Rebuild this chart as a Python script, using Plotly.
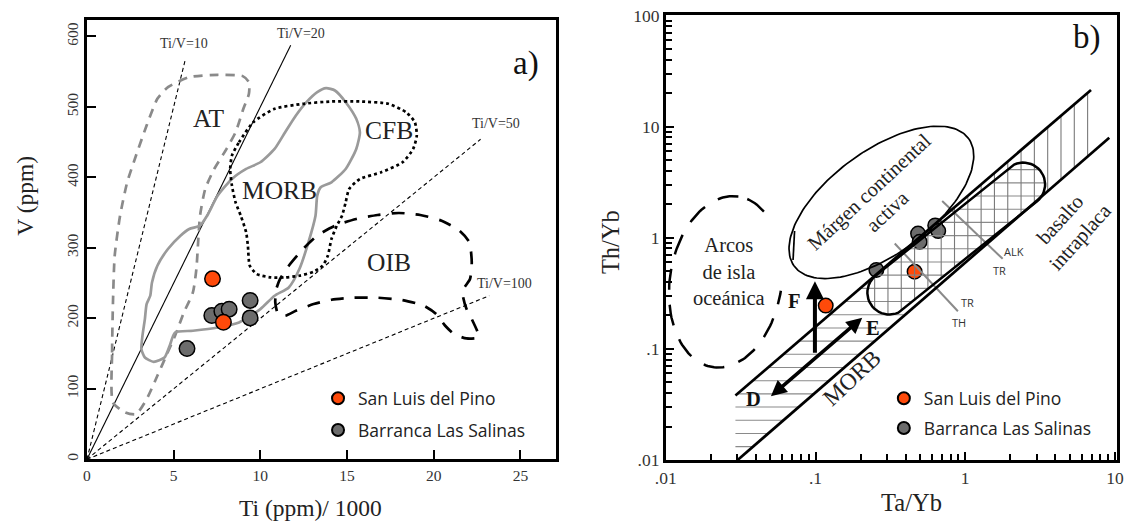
import numpy as np
import plotly.graph_objects as go

SERIF = "Liberation Serif"
SANS = "Open Sans"
ORANGE = "#ff4a0a"
GRAY = "#6c6c6c"

# measured page mapping: shown = (layout_px + 8) * K
FIG_W, FIG_H, OFF = 1128, 527, 8
KX, KY = 1128 / 1144, 527 / 543


def pxx(x):
    return (x / KX - OFF) / FIG_W


def pxy(y):
    return 1 - (y / KY - OFF) / FIG_H


# ---------------- Panel a) Ti - V ----------------
slp_ti = [7.24, 7.87]
slp_v = [256, 194.5]
bls_ti = [7.20, 7.78, 8.20, 9.41, 9.41, 5.77]
bls_v = [204, 210, 213, 225.4, 200.6, 157]

ratio_vals = [10, 20, 50, 100]
ratio_end_ti = [5.65, 11.75, 22.7, 23.2]
ratio_labels = ["Ti/V=10", "Ti/V=20", "Ti/V=50", "Ti/V=100"]
ratio_label_ti = [5.6, 12.35, 23.6, 24.1]
ratio_label_v = [590, 604, 476, 250]

at_ti = [1.50, 1.45, 1.50, 1.60, 1.91, 2.32, 2.83, 3.44, 4.06, 4.67, 5.90, 7.54, 8.98, 9.34, 9.34,
         9.02, 8.57, 8.05, 7.34, 6.82, 6.52, 6.41, 6.31, 6.11, 5.59, 5.08, 4.57, 4.06, 3.44, 2.83, 2.21, 1.50]
at_v = [80.5, 151.5, 222.5, 288.8, 345.6, 393, 430.9, 473.5, 511.4, 527.9, 542.1, 545.5, 543.6, 535, 518.5,
        497.2, 464, 440.3, 411.9, 383.5, 345.6, 307.8, 269.9, 236.7, 208.3, 175.2, 146.8, 118.4, 85.2, 63.9, 66.3, 80.5]

morb_ti = [3.14, 3.34, 3.85, 4.47, 4.77, 5.08, 6.11, 7.54, 8.77, 10.0, 10.82, 11.64, 12.25, 12.77, 13.18, 13.28,
           13.48, 14.1, 14.92, 15.53, 15.74, 15.53, 14.92, 14.30, 13.79, 13.28, 12.66, 12.05, 11.43, 10.82,
           10.0, 9.18, 8.36, 7.54, 6.93, 6.52, 5.90, 5.39, 4.67, 4.06, 3.75, 3.65, 3.44, 3.34, 3.20, 3.14]
morb_v = [156.3, 144.4, 138.3, 144.4, 161.0, 179.9, 182.3, 187.0, 194.1, 213.1, 232.0, 243.8, 269.9, 307.8, 345.6,
          374.1, 385.9, 393.0, 411.9, 440.3, 464.0, 483.0, 506.6, 523.2, 526.5, 520.8, 506.6, 487.7, 464.0, 440.3,
          421.4, 411.9, 397.7, 374.1, 345.6, 331.4, 326.7, 317.2, 298.3, 274.6, 250.9, 232.0, 220.2, 198.9, 175.2, 156.3]

cfb_ti = [8.36, 8.77, 9.59, 10.82, 12.46, 14.10, 15.74, 17.38, 18.4, 18.91, 19.02, 18.81, 18.2, 16.97, 15.74,
          15.12, 14.92, 14.71, 14.41, 14.1, 13.89, 13.59, 13.07, 12.25, 11.43, 10.61, 9.80, 9.39, 9.28, 9.18,
          8.87, 8.57, 8.36, 8.26, 8.36]
cfb_v = [430.9, 449.8, 478.2, 497.2, 504.3, 507.6, 507.6, 504.3, 492.4, 478.2, 459.3, 440.3, 421.4, 407.2, 397.7,
         383.5, 364.6, 345.6, 331.4, 312.5, 288.8, 274.6, 266.1, 260.4, 258.0, 258.0, 262.8, 274.6, 303.0, 322.0,
         345.6, 364.6, 388.3, 411.9, 430.9]

oib_ti = [11.13, 11.64, 12.46, 13.28, 14.30, 15.53, 16.76, 17.99, 19.22, 20.45, 21.48, 22.05, 22.19, 22.09,
          21.72, 21.68, 21.89, 22.19, 22.50, 22.60, 21.89, 21.17, 20.66, 20.14, 19.43, 18.20, 16.76, 15.33,
          14.10, 13.07, 12.05, 11.43, 11.02, 10.86, 10.92, 11.13]
oib_v = [255.7, 274.6, 298.3, 317.2, 331.4, 340.9, 346.6, 349.4, 346.6, 338.5, 324.3, 307.8, 279.4, 255.7,
         241.5, 232.0, 213.1, 198.9, 182.3, 172.8, 171.4, 177.6, 189.4, 206.0, 217.8, 225.9, 229.2, 229.2,
         226.3, 220.2, 210.7, 203.6, 206.0, 222.5, 241.5, 255.7]

field_labels_a = ["AT", "CFB", "MORB", "OIB"]
field_label_ti = [7.05, 17.4, 11.1, 17.4]
field_label_v = [483, 466, 381, 279]

# ---------------- Panel b) Ta/Yb - Th/Yb ----------------
slp_tayb = [0.117, 0.459]
slp_thyb = [0.245, 0.495]
bls_tayb = [0.255, 0.484, 0.496, 0.63, 0.66]
bls_thyb = [0.513, 1.09, 0.918, 1.29, 1.15]

# mantle array limits (log10 units)
upper_lx = [-1.535, 0.84]
upper_ly = [-1.42, 1.33]
lower_lx = [-1.52, 0.962]
lower_ly = [-2.0, 0.899]

# crosshatched field: rounded band between two end centres (log10) with radius (px)
cap_left_c = (-0.507, -0.495)
cap_right_c = (0.387, 0.480)
cap_r = 22.0

# ellipse fields: centre (log10), semi-axes (px), tilt (deg)
margen_c = (-0.56, 0.3185)
margen_ab = (108.5, 52.0)
margen_tilt = 36.5
arcos_c = (-1.60, -0.397)
arcos_ab = (87.0, 56.0)
arcos_tilt = 81.6
arcos_gap_ly = (-0.47, 0.23)

sep_lines_lx = [[-0.471, -0.049], [-0.154, 0.25]]
sep_lines_ly = [[-0.052, -0.662], [0.33, -0.19]]

PX_X = 150.0   # px per decade x (reference)
PX_Y = 112.1   # px per decade y (reference)


def to_xy(u, v):
    return [None if a is None else 10 ** (a / PX_X) for a in u], [None if b is None else 10 ** (b / PX_Y) for b in v]


def ellipse_uv(c, ab, tilt, n=160):
    t = np.linspace(0, 2 * np.pi, n)
    th = np.radians(tilt)
    du = ab[0] * np.cos(t) * np.cos(th) - ab[1] * np.sin(t) * np.sin(th)
    dv = ab[0] * np.cos(t) * np.sin(th) + ab[1] * np.sin(t) * np.cos(th)
    return c[0] * PX_X + du, c[1] * PX_Y + dv


def band(lx, ly, u):
    u0, v0, u1, v1 = lx[0] * PX_X, ly[0] * PX_Y, lx[1] * PX_X, ly[1] * PX_Y
    return v0 + (u - u0) * (v1 - v0) / (u1 - u0)


def clip(pu, pv, c, vertical):
    pts = []
    for i in range(len(pu) - 1):
        x1, y1, x2, y2 = pu[i], pv[i], pu[i + 1], pv[i + 1]
        a1, a2, b1, b2 = (x1, x2, y1, y2) if vertical else (y1, y2, x1, x2)
        if (a1 <= c < a2) or (a2 <= c < a1):
            t = (c - a1) / (a2 - a1)
            pts.append(b1 + t * (b2 - b1))
    pts.sort()
    return [(pts[k], pts[k + 1]) for k in range(0, len(pts) - 1, 2)]


ub = lambda u: band(upper_lx, upper_ly, u)
lb = lambda u: band(lower_lx, lower_ly, u)

# stadium geometry in screen units
c1 = np.array([cap_left_c[0] * PX_X, cap_left_c[1] * PX_Y])
c2 = np.array([cap_right_c[0] * PX_X, cap_right_c[1] * PX_Y])
th = np.arctan2(*(c2 - c1)[::-1])
ra = np.linspace(th + np.pi / 2, th - np.pi / 2, 25)
la = np.linspace(th - np.pi / 2, th - 3 * np.pi / 2, 25)
right_cap = np.c_[c2[0] + cap_r * np.cos(ra), c2[1] + cap_r * np.sin(ra)]
left_cap = np.c_[c1[0] + cap_r * np.cos(la), c1[1] + cap_r * np.sin(la)]
T = left_cap[-1]
B = left_cap[0]
C2B = right_cap[-1]
stad = np.vstack([[T], right_cap, left_cap])

uL0, uU1 = lower_lx[0] * PX_X, upper_lx[1] * PX_X
uR = 0.906 * PX_X
edge_u = -1.535 * PX_X
h_poly = np.vstack([[[edge_u, -2.0 * PX_Y], [edge_u, ub(edge_u)], T], right_cap, [B], [[B[0], lb(B[0])],
                    [uL0, lb(uL0)], [edge_u, -2.0 * PX_Y]]])
v_poly = np.vstack([[T, [uU1, ub(uU1)], [uR, 1.05 * PX_Y], [uR, lb(uR)], [C2B[0], lb(C2B[0])], C2B], left_cap])

v_hatch_u = [(-0.605 + 0.0889 * k) * PX_X for k in range(18)]
h_hatch_v = [(-1.88 + 0.1187 * j) * PX_Y for j in range(23)]

fig = go.Figure()

# ---- panel a traces ----
for r, te in zip(ratio_vals, ratio_end_ti):
    fig.add_trace(go.Scatter(x=[0, te], y=[0, te * 1000 / r], mode="lines", showlegend=False, hoverinfo="skip",
                             line=dict(color="black", width=1.1, dash="solid" if r == 20 else "4px,3px"),
                             xaxis="x", yaxis="y"))
fig.add_trace(go.Scatter(x=at_ti, y=at_v, mode="lines", line=dict(color="#8a8a8a", width=2.7, dash="9px,7px", shape="spline", smoothing=0.6),
                         showlegend=False, hoverinfo="skip"))
fig.add_trace(go.Scatter(x=morb_ti, y=morb_v, mode="lines", line=dict(color="#9a9a9a", width=2.7, shape="spline", smoothing=0.6),
                         showlegend=False, hoverinfo="skip"))
fig.add_trace(go.Scatter(x=cfb_ti, y=cfb_v, mode="lines", line=dict(color="black", width=2.7, dash="dot", shape="spline", smoothing=0.6),
                         showlegend=False, hoverinfo="skip"))
fig.add_trace(go.Scatter(x=oib_ti, y=oib_v, mode="lines", line=dict(color="black", width=2.7, dash="13px,11px", shape="spline", smoothing=0.6),
                         showlegend=False, hoverinfo="skip"))

fig.add_trace(go.Scatter(x=bls_ti, y=bls_v, mode="markers", name="Barranca Las Salinas", legend="legend",
                         legendgroup="a2", legendrank=2,
                         marker=dict(size=15.5, color=GRAY, line=dict(color="black", width=1.5))))
fig.add_trace(go.Scatter(x=slp_ti, y=slp_v, mode="markers", name="San Luis del Pino", legend="legend",
                         legendgroup="a1", legendrank=1,
                         marker=dict(size=15.5, color=ORANGE, line=dict(color="black", width=1.5))))

# ---- panel b traces ----
hu, hv = [], []
for c in h_hatch_v:
    for a, b in clip(h_poly[:, 0], h_poly[:, 1], c, vertical=False):
        hu += [a, b, None]
        hv += [c, c, None]
vu, vv = [], []
for c in v_hatch_u:
    for a, b in clip(v_poly[:, 0], v_poly[:, 1], c, vertical=True):
        vu += [c, c, None]
        vv += [a, b, None]

fig.add_trace(go.Scatter(x=bls_tayb, y=bls_thyb, mode="markers", name="Barranca Las Salinas", legend="legend2",
                         legendgroup="b2", legendrank=2, xaxis="x2", yaxis="y2",
                         marker=dict(size=14.5, color=GRAY, line=dict(color="black", width=1.5))))
fig.add_trace(go.Scatter(x=slp_tayb, y=slp_thyb, mode="markers", name="San Luis del Pino", legend="legend2",
                         legendgroup="b1", legendrank=1, xaxis="x2", yaxis="y2",
                         marker=dict(size=14.5, color=ORANGE, line=dict(color="black", width=1.5))))

hx, hy = to_xy(hu, hv)
vx, vy = to_xy(vu, vv)
fig.add_trace(go.Scatter(x=hx, y=hy, mode="lines", line=dict(color="#8a8a8a", width=1.1), xaxis="x2", yaxis="y2",
                         showlegend=False, hoverinfo="skip"))
fig.add_trace(go.Scatter(x=vx, y=vy, mode="lines", line=dict(color="#7a7a7a", width=1.1), xaxis="x2", yaxis="y2",
                         showlegend=False, hoverinfo="skip"))

for lxs, lys in zip(sep_lines_lx, sep_lines_ly):
    fig.add_trace(go.Scatter(x=10 ** np.array(lxs), y=10 ** np.array(lys), mode="lines",
                             line=dict(color="#8a8a8a", width=2), xaxis="x2", yaxis="y2",
                             showlegend=False, hoverinfo="skip"))

for lxs, lys in [(upper_lx, upper_ly), (lower_lx, lower_ly)]:
    fig.add_trace(go.Scatter(x=10 ** np.array(lxs), y=10 ** np.array(lys), mode="lines",
                             line=dict(color="black", width=2.7), xaxis="x2", yaxis="y2",
                             showlegend=False, hoverinfo="skip"))

sx, sy = to_xy(list(stad[:, 0]), list(stad[:, 1]))
fig.add_trace(go.Scatter(x=sx, y=sy, mode="lines", line=dict(color="black", width=2.5), xaxis="x2", yaxis="y2",
                         showlegend=False, hoverinfo="skip"))

eu, ev = ellipse_uv(margen_c, margen_ab, margen_tilt)
ex, ey = to_xy(list(eu), list(ev))
fig.add_trace(go.Scatter(x=ex, y=ey, mode="lines", line=dict(color="black", width=1.7), xaxis="x2", yaxis="y2",
                         showlegend=False, hoverinfo="skip"))
fig.add_trace(go.Scatter(x=[10 ** -1.15, 10 ** -1.14], y=[10 ** -0.2, 10 ** 0.06], mode="lines",
                         line=dict(color="black", width=1.7), xaxis="x2", yaxis="y2",
                         showlegend=False, hoverinfo="skip"))

eu, ev = ellipse_uv(arcos_c, arcos_ab, arcos_tilt)
eu, ev = list(eu), list(ev)
for i in range(len(eu)):
    if eu[i] > arcos_c[0] * PX_X and arcos_gap_ly[0] * PX_Y < ev[i] < arcos_gap_ly[1] * PX_Y:
        eu[i], ev[i] = None, None
ex, ey = to_xy(eu, ev)
fig.add_trace(go.Scatter(x=ex, y=ey, mode="lines", line=dict(color="black", width=2.5, dash="21px,15px"),
                         xaxis="x2", yaxis="y2", showlegend=False, hoverinfo="skip", connectgaps=False))

# ---- axes ----
common = dict(showline=True, linecolor="black", linewidth=2.7, mirror=True, ticks="inside", tickwidth=2,
              tickcolor="black", showgrid=False, zeroline=False, ticklabeloverflow="allow",
              tickfont=dict(family=SERIF, size=15.5, color="#333"))
logfont = dict(family=SERIF, size=17.5, color="#333")
legfont = dict(family=SANS, size=17.5, color="#222")
fig.update_layout(
    width=FIG_W, height=FIG_H, margin=dict(l=0, r=0, t=0, b=0),
    paper_bgcolor="white", plot_bgcolor="white",
    xaxis=dict(domain=[pxx(84), pxx(554)], range=[0, 27.05], tickvals=[0, 5, 10, 15, 20, 25],
               ticklen=9, anchor="y", **common),
    yaxis=dict(domain=[pxy(461), pxy(18)], range=[0, 623], tickvals=[0, 100, 200, 300, 400, 500, 600],
               ticklen=9, tickangle=-90, anchor="x", **common),
    xaxis2=dict(domain=[pxx(664), pxx(1116)], type="log", range=[-2, 1.013], anchor="y2",
                tickvals=[0.01, 0.1, 1, 10], ticktext=[".01", ".1", "1", "10"], ticklen=8,
                minor=dict(ticks="inside", ticklen=6, tickwidth=2, tickcolor="black",
                           tickvals=[m * 10.0 ** d for d in range(-2, 1) for m in range(2, 10)]),
                **{**common, "tickfont": logfont}),
    yaxis2=dict(domain=[pxy(461.7), pxy(13.3)], type="log", range=[-2, 2], anchor="x2",
                tickvals=[0.01, 0.1, 1, 10, 100], ticktext=[".01", ".1", "1", "10", "100"], ticklen=8,
                minor=dict(ticks="inside", ticklen=6, tickwidth=2, tickcolor="black",
                           tickvals=[m * 10.0 ** d for d in range(-2, 2) for m in range(2, 10)]),
                **{**common, "tickfont": logfont}),
    legend=dict(x=312 / FIG_W, y=1 - 385 / FIG_H, xanchor="left", yanchor="top", bgcolor="rgba(0,0,0,0)",
                font=legfont, traceorder="grouped", tracegroupgap=6, itemsizing="constant"),
    legend2=dict(x=887 / FIG_W, y=1 - 385 / FIG_H, xanchor="left", yanchor="top", bgcolor="rgba(0,0,0,0)",
                 font=legfont, traceorder="grouped", tracegroupgap=4, itemsizing="constant"),
)

ann = []
for t, x, y in zip(ratio_labels, ratio_label_ti, ratio_label_v):
    ann.append(dict(x=x, y=y, xref="x", yref="y", text=t, showarrow=False,
                    font=dict(family=SERIF, size=14, color="#333")))
for t, x, y in zip(field_labels_a, field_label_ti, field_label_v):
    ann.append(dict(x=x, y=y, xref="x", yref="y", text=t, showarrow=False,
                    font=dict(family=SERIF, size=25.5, color="#222")))
ann.append(dict(x=25.3, y=561, xref="x", yref="y", text="a)", showarrow=False,
                font=dict(family=SERIF, size=33, color="#111")))
paper_titles = [
    ("Ti (ppm)/ 1000", 308, 510, 0, 23.5),
    ("V (ppm)", 22, 195, -90, 23.5),
    ("Th/Yb", 608, 242, -90, 24.5),
    ("Ta/Yb", 910, 505, 0, 24.5),
]
for t, px, py, ang, sz in paper_titles:
    ann.append(dict(x=pxx(px), y=pxy(py), xref="paper", yref="paper", text=t, textangle=ang,
                    xanchor="center", yanchor="middle", showarrow=False,
                    font=dict(family=SERIF, size=sz, color="#222")))

# panel b texts (log10 positions)
btexts = [
    ("b)", 0.81, 1.80, 0, 33, SERIF, "#111", False),
    ("Márgen continental<br>activa", -0.58, 0.33, -43, 20.5, SERIF, "#222", False),
    ("Arcos<br>de isla<br>oceánica", -1.575, -0.30, 0, 20.5, SERIF, "#222", False),
    ("basalto<br>intraplaca", 0.70, 0.08, -48, 20.5, SERIF, "#222", False),
    ("MORB", -0.761, -1.259, -43, 23.5, SERIF, "#222", False),
    ("F", -1.138, -0.571, 0, 20.5, SERIF, "#111", True),
    ("E", -0.616, -0.81, 0, 20.5, SERIF, "#111", True),
    ("D", -1.417, -1.453, 0, 20.5, SERIF, "#111", True),
    ("ALK", 0.329, -0.127, 0, 11, SANS, "#333", False),
    ("TR", 0.229, -0.296, 0, 11, SANS, "#333", False),
    ("TR", 0.016, -0.586, 0, 11, SANS, "#333", False),
    ("TH", -0.045, -0.765, 0, 11, SANS, "#333", False),
]
for t, x, y, ang, sz, fam, col, bold in btexts:
    ann.append(dict(x=x, y=y, xref="x2", yref="y2", text=f"<b>{t}</b>" if bold else t, textangle=ang,
                    showarrow=False, font=dict(family=fam, size=sz, color=col)))

# arrows F and D-E
ann.append(dict(x=-1.004, y=-0.392, ax=-1.004, ay=-1.049, xref="x2", yref="y2", axref="x2", ayref="y2",
                text="", showarrow=True, arrowhead=2, arrowsize=0.9, arrowwidth=4, arrowcolor="black"))
ann.append(dict(x=-0.688, y=-0.72, ax=-1.308, ay=-1.438, xref="x2", yref="y2", axref="x2", ayref="y2",
                text="", showarrow=True, arrowhead=2, arrowsize=0.9, arrowwidth=3.5, arrowcolor="black",
                arrowside="end+start", startarrowhead=2, startarrowsize=0.9))
fig.update_layout(annotations=ann)

fig.write_html("out.html")
